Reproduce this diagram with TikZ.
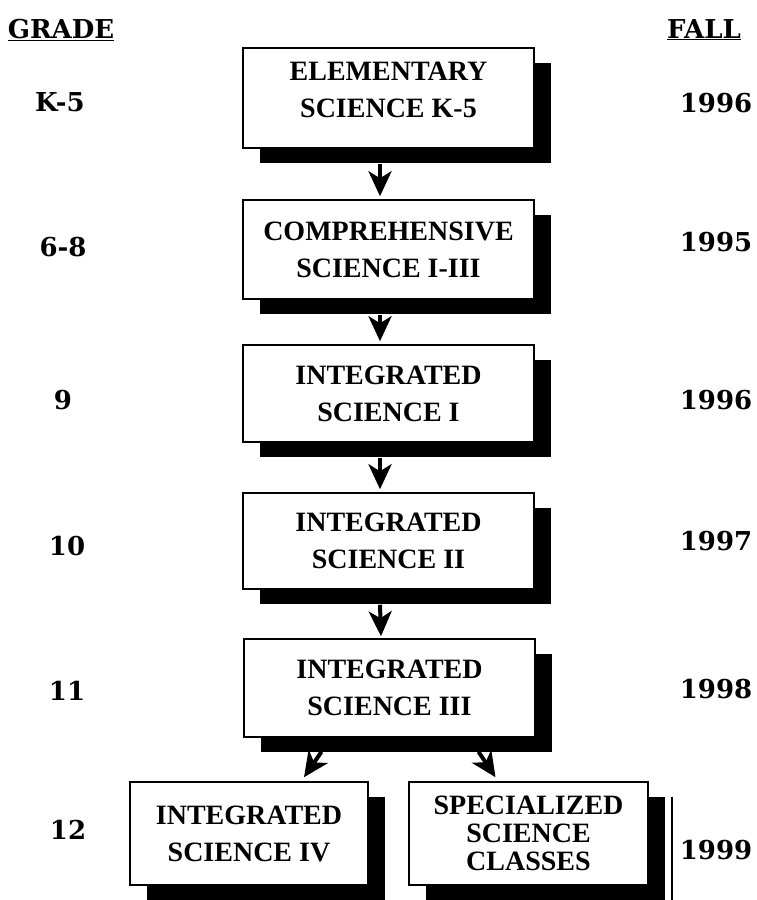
\documentclass[tikz,border=0pt]{standalone}
\usepackage{fontspec}
\setmainfont{Liberation Serif}
\newfontfamily\labfont{DejaVu Serif}
\usetikzlibrary{arrows.meta,shadows}
\begin{document}
\begin{tikzpicture}[x=1pt,y=-1pt,
  box/.style={draw=black, line width=1.5pt, fill=white, align=center, inner sep=0pt,
    font=\bfseries\fontsize{28}{37}\selectfont,
    drop shadow={shadow xshift=17pt, shadow yshift=-15pt, fill=black, opacity=1}},
  cbox/.style={box, minimum width=291pt},
  lab/.style={font=\labfont\bfseries\fontsize{26}{30}\selectfont, inner sep=0pt},
  arr/.style={line width=4pt, -{Stealth[length=25pt,width=23pt,inset=7pt]}}]
\useasboundingbox (0,0) rectangle (757,900);
% headers
\node[lab, anchor=base] (gh) at (61,38) {\underline{GRADE}};
\node[lab, anchor=base] (fh) at (704,38) {\underline{FALL}};
% boxes
\node[cbox, minimum height=100pt, text depth=16pt] (b1) at (388.5,98) {ELEMENTARY\\SCIENCE K-5};
\node[cbox, minimum height=99pt] (b2) at (388.5,249.5) {COMPREHENSIVE\\SCIENCE I-III};
\node[cbox, minimum height=97pt] (b3) at (388.5,393.5) {INTEGRATED\\SCIENCE I};
\node[cbox, minimum height=96pt] (b4) at (388.5,541) {INTEGRATED\\SCIENCE II};
\node[cbox, minimum height=98pt] (b5) at (389.5,688) {INTEGRATED\\SCIENCE III};
\node[box, minimum width=238pt, minimum height=103pt] (b6) at (249,833.5) {INTEGRATED\\SCIENCE IV};
\node[box, minimum width=239pt, minimum height=103pt, font=\bfseries\fontsize{28}{28}\selectfont] (b7) at (528.5,833.5) {SPECIALIZED\\SCIENCE\\CLASSES};
% extra rule beside box 7
\draw[line width=2pt] ([xshift=23pt,yshift=-16pt]b7.north east) -- ([xshift=23pt,yshift=-15pt]b7.south east);
% arrows
\draw[arr] ([xshift=-8.5pt,yshift=-15pt]b1.south) -- ([xshift=-8.5pt,yshift=3pt]b2.north);
\draw[arr] ([xshift=-8.5pt,yshift=-15pt]b2.south) -- ([xshift=-8.5pt,yshift=3pt]b3.north);
\draw[arr] ([xshift=-8.5pt,yshift=-15pt]b3.south) -- ([xshift=-8.5pt,yshift=3pt]b4.north);
\draw[arr] ([xshift=-8.5pt,yshift=-15pt]b4.south) -- ([xshift=-8.5pt,yshift=2pt]b5.north);
\draw[arr] ([xshift=-68pt,yshift=-14pt]b5.south) -- ([xshift=55pt,yshift=4pt]b6.north);
\draw[arr] ([xshift=89pt,yshift=-14pt]b5.south) -- ([xshift=-33pt,yshift=4pt]b7.north);
% grade labels
\node[lab] (g1) at (60,102) {K-5};
\node[lab] (g2) at (63,247) {6-8};
\node[lab] (g3) at (63,400) {9};
\node[lab] (g4) at (67,546) {10};
\node[lab] (g5) at (67,691) {11};
\node[lab] (g6) at (68,830) {12};
% years
\node[lab] (y1) at (716,103) {1996};
\node[lab] (y2) at (716,242) {1995};
\node[lab] (y3) at (716,400) {1996};
\node[lab] (y4) at (716,541) {1997};
\node[lab] (y5) at (716,689) {1998};
\node[lab] (y6) at (716,850) {1999};
\end{tikzpicture}
\end{document}
